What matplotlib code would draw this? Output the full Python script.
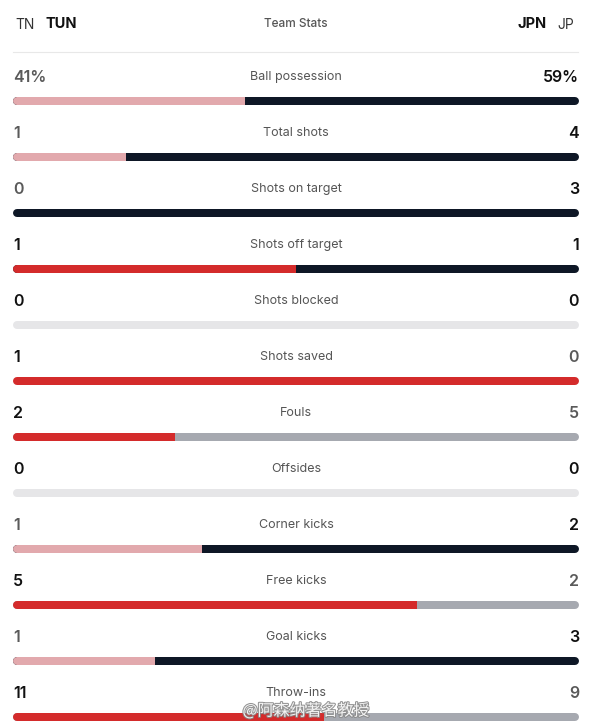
import matplotlib.pyplot as plt
import matplotlib.patheffects as pe

plt.rcParams['font.family'] = ['Inter', 'DejaVu Sans']

stats = ["Ball possession", "Total shots", "Shots on target", "Shots off target",
         "Shots blocked", "Shots saved", "Fouls", "Offsides", "Corner kicks",
         "Free kicks", "Goal kicks", "Throw-ins"]
tun = [41, 1, 0, 1, 0, 1, 2, 0, 1, 5, 1, 11]
jpn = [59, 4, 3, 1, 0, 0, 5, 0, 2, 2, 3, 9]
lower_better = ["Fouls"]
neutral = ["Fouls", "Free kicks", "Throw-ins"]

RED = "#d42b2b"
PINK = "#e2a9ad"
NAVY = "#0e1726"
GREY = "#a6a9b0"
EMPTY = "#e6e6e8"
DARK = "#111111"
MUTED = "#5a5a5a"

fig = plt.figure(figsize=(5.91, 7.26), dpi=100)
ax = fig.add_axes([0, 0, 1, 1])
ax.set_xlim(0, 591)
ax.set_ylim(726, 0)
ax.axis("off")

# header
ax.text(15, 25, "TN", fontsize=10, color="#333333", va="center")
ax.text(45, 24, "TUN", fontsize=10.5, fontweight="bold", color=DARK, va="center")
ax.text(296, 24, "Team Stats", fontsize=8.5, fontweight="medium", color="#555555",
        ha="center", va="center")
ax.text(547, 24, "JPN", fontsize=10.5, fontweight="bold", color=DARK, va="center", ha="right")
ax.text(574, 25, "JP", fontsize=10, color="#333333", va="center", ha="right")
ax.plot([13, 578], [52, 52], color="#e8e8e8", lw=0.8)

x0, x1 = 13, 579
r = 4
lw = 8 * 72 / 100

for i, name in enumerate(stats):
    ty = 77 + 56 * i
    by = 101 + 56 * i
    a, b = tun[i], jpn[i]
    pct = name == "Ball possession"
    la = f"{a}%" if pct else str(a)
    lb = f"{b}%" if pct else str(b)

    a_wins = (a < b) if name in lower_better else (a > b)
    if a == b:
        ca = cb = DARK
    else:
        ca = DARK if a_wins else MUTED
        cb = MUTED if a_wins else DARK

    ax.text(x0, ty, la, fontsize=11.5, fontweight="semibold", color=ca, va="center", ha="left")
    ax.text(x1, ty, lb, fontsize=11.5, fontweight="semibold", color=cb, va="center", ha="right")
    ax.text(296, ty, name, fontsize=9, color="#555555", va="center", ha="center")

    total = a + b
    if total == 0:
        ax.plot([x0 + r, x1 - r], [by, by], color=EMPTY, lw=lw, solid_capstyle="round")
        continue
    split = x0 + (x1 - x0) * a / total
    left_c = RED if (a_wins or a == b) else PINK
    right_c = GREY if name in neutral else NAVY
    if b == 0:
        ax.plot([x0 + r, x1 - r], [by, by], color=left_c, lw=lw, solid_capstyle="round")
        continue
    ax.plot([x0 + r, x1 - r], [by, by], color=right_c, lw=lw, solid_capstyle="round")
    if a > 0:
        ax.plot([x0 + r, max(x0 + r + 0.1, split - r)], [by, by], color=left_c, lw=lw,
                solid_capstyle="round")
        ax.plot([x0 + r, split], [by, by], color=left_c, lw=lw, solid_capstyle="butt")

ax.text(306, 711, "@阿森纳著名教授", fontsize=11.5, color="white", ha="center", va="center",
        family=["Noto Sans CJK SC", "DejaVu Sans"], alpha=0.9,
        path_effects=[pe.withStroke(linewidth=1.5, foreground="#888888")])

fig.savefig("out.png", dpi=100, facecolor="white")
